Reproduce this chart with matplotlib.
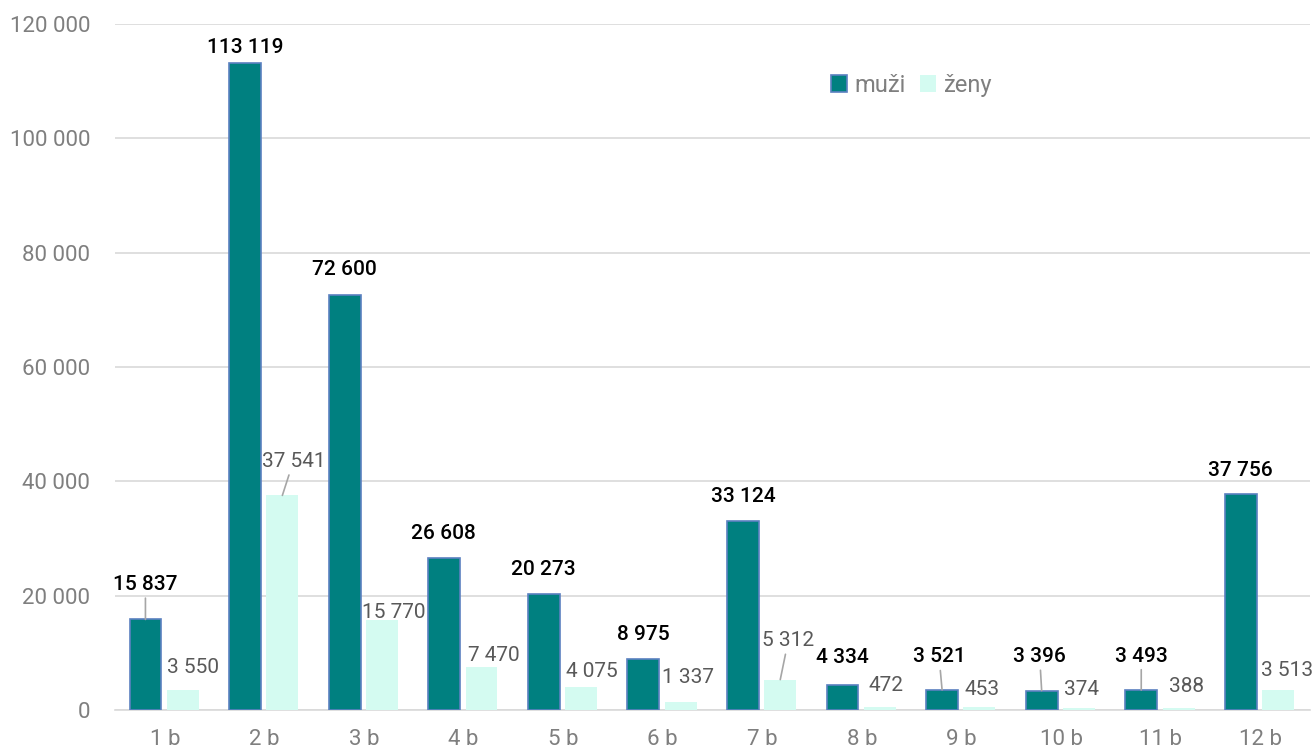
import numpy as np
import matplotlib.pyplot as plt

plt.rcParams['font.family'] = ['Roboto', 'DejaVu Sans']

# data
kategorie = ['1 b', '2 b', '3 b', '4 b', '5 b', '6 b', '7 b', '8 b', '9 b', '10 b', '11 b', '12 b']
muzi = [15837, 113119, 72600, 26608, 20273, 8975, 33124, 4334, 3521, 3396, 3493, 37756]
zeny = [3550, 37541, 15770, 7470, 4075, 1337, 5312, 472, 453, 374, 388, 3513]

# label offsets (pixels) relative to bar top, and leader line flags
muzi_off = [(0, 35), (0, 16), (0, 25), (-1, 24), (0, 25), (0, 24), (0, 24),
            (0, 28), (-3, 33), (-2, 34), (0, 34), (0, 24)]
muzi_line = [True, False, False, False, False, False, False, False, True, True, True, False]
zeny_off = [(10, 22), (11, 34), (12, 7), (12, 12), (11, 15), (7, 25), (8, 39),
            (6, 22), (3, 18), (2, 18), (8, 21), (9, 19)]
zeny_line = [False, True, False, False, False, False, True, False, False, False, False, False]

def fmt(v):
    return f"{v:,}".replace(',', ' ')

teal = '#008080'
mint = '#d4fbf1'
edge = '#5b80c0'
gray = '#7f7f7f'

fig = plt.figure(figsize=(13.12, 7.51), dpi=100)
ax = fig.add_axes([0.0877, 0.0546, 0.9108, 0.9134])

x = np.arange(len(kategorie))
w = 0.32
ax.bar(x - 0.195, muzi, w, color=teal, edgecolor=edge, linewidth=1.2, label='muži', zorder=3)
ax.bar(x + 0.18, zeny, w, color=mint, edgecolor='none', label='ženy', zorder=3)

for i in range(len(x)):
    ap = dict(arrowstyle='-', color='#a6a6a6', lw=1.2, shrinkA=1, shrinkB=0) if muzi_line[i] else None
    ax.annotate(fmt(muzi[i]), xy=(x[i] - 0.195, muzi[i]), xytext=muzi_off[i],
                textcoords='offset pixels', ha='center', va='center',
                fontsize=15, fontweight='medium', color='black', arrowprops=ap, zorder=5)
    ap = dict(arrowstyle='-', color='#a6a6a6', lw=1.2, shrinkA=1, shrinkB=0) if zeny_line[i] else None
    ax.annotate(fmt(zeny[i]), xy=(x[i] + 0.18, zeny[i]), xytext=zeny_off[i],
                textcoords='offset pixels', ha='center', va='center',
                fontsize=15, color='#595959', arrowprops=ap, zorder=5)

ax.set_xlim(-0.5, len(x) - 0.5)
ax.set_ylim(0, 120000)
ax.set_yticks(np.arange(0, 120001, 20000))
ax.set_yticklabels([fmt(v) for v in range(0, 120001, 20000)])
ax.set_xticks(x)
ax.set_xticklabels(kategorie)
ax.tick_params(axis='both', length=0, labelsize=16, labelcolor=gray)
ax.tick_params(axis='y', pad=18)
ax.tick_params(axis='x', pad=14)
ax.grid(axis='y', color='#d9d9d9', linewidth=1.2, zorder=0)
for s in ['top', 'right', 'left']:
    ax.spines[s].set_visible(False)
ax.spines['bottom'].set_color('#d9d9d9')
ax.spines['bottom'].set_linewidth(1.2)

ax.legend(loc='center left', bbox_to_anchor=(0.589, 0.911), ncol=2, frameon=False,
          fontsize=17, handlelength=0.7, handleheight=0.7, handletextpad=0.3,
          columnspacing=0.6, borderpad=0, labelcolor=gray)

fig.savefig('out.png', dpi=100)
